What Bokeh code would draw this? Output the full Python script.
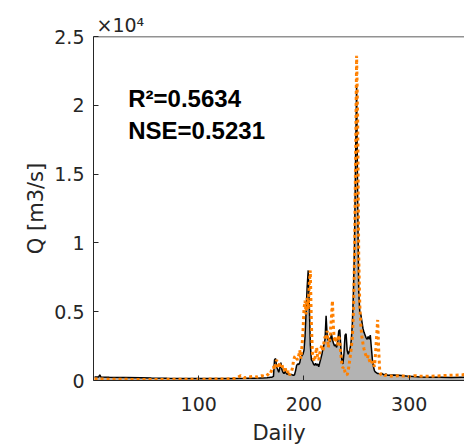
from bokeh.plotting import figure
from bokeh.models import (Label, Span, FixedTicker, CustomJSTickFormatter, Range1d)
from bokeh.embed import file_html
from bokeh.resources import INLINE

# ---------------- data ----------------
obs_days = [1, 5, 6, 7, 15, 30, 45, 55, 70, 85, 100, 115, 130, 145, 155, 165,
            166, 167, 168, 169, 170, 171, 172, 173, 174, 175, 176, 177, 178, 179, 180,
            181, 182, 183, 184, 185, 186, 187, 188, 189, 190, 191, 192, 193, 194, 195,
            196, 197, 198, 199, 200, 201, 202, 203, 204, 205, 206, 207, 208, 209, 210,
            211, 212, 213, 214, 215, 216, 217, 218, 219, 220, 221, 222, 223, 224, 225,
            226, 227, 228, 229, 230, 231, 232, 233, 234, 235, 236, 237, 238, 239, 240,
            241, 242, 243, 244, 245, 246, 247, 248, 249, 250, 251, 252, 253, 254, 255,
            256, 257, 258, 259, 260, 261, 262, 263, 264, 265, 266, 267, 268, 269, 270,
            271, 272, 273, 274, 275, 276, 277, 278, 279, 280, 285, 290, 295, 300, 310,
            320, 330, 340, 350, 358, 365]
obs_q = [250, 260, 420, 250, 230, 220, 200, 180, 160, 150, 140, 140, 150, 160, 170, 200,
         210, 220, 230, 240, 260, 300, 1500, 1600, 1000, 800, 600, 900, 1300, 800, 600,
         500, 650, 550, 450, 500, 420, 400, 450, 400, 380, 420, 700, 1100, 1200, 1150,
         1300, 1700, 1800, 1900, 2200, 3200, 5000, 6800, 8000, 5600, 2600, 1500, 1400, 1200, 1100,
         1250, 1100, 1200, 1000, 1300, 1600, 1900, 2300, 2600, 3000, 4700, 3300, 2900, 3100, 2800,
         3400, 3000, 2700, 2500, 2600, 2400, 2800, 3600, 3700, 2400, 1500, 1200, 2000, 3300, 3400,
         2200, 1900, 2100, 2400, 3000, 4200, 6500, 10000, 16000, 21500, 13000, 6500, 5000, 4800, 4300,
         3800, 3500, 3300, 3100, 3000, 3200, 3000, 3300, 2400, 1500, 1000, 700, 600, 550, 500,
         500, 480, 470, 520, 450, 420, 430, 480, 400, 380, 400, 380, 350, 300, 260,
         240, 230, 220, 230, 240, 230]

sim_days = [1, 10, 20, 35, 50, 65, 80, 95, 110, 125, 135, 140, 143, 148, 152, 156, 160, 163, 166,
            167, 168, 169, 170, 171, 172, 173, 174, 175, 176, 177, 178, 179, 180,
            181, 182, 183, 184, 185, 186, 187, 188, 189, 190, 191, 192, 193, 194, 195,
            196, 197, 198, 199, 200, 201, 202, 203, 204, 205, 206, 207, 208, 209, 210,
            211, 212, 213, 214, 215, 216, 217, 218, 219, 220, 221, 222, 223, 224, 225,
            226, 227, 228, 229, 230, 231, 232, 233, 234, 235, 236, 237, 238, 239, 240,
            241, 242, 243, 244, 245, 246, 247, 248, 249, 250, 251, 252, 253, 254, 255,
            256, 257, 258, 259, 260, 261, 262, 263, 264, 265, 266, 267, 268, 269, 270,
            271, 272, 273, 274, 275, 276, 277, 278, 279, 280, 285, 290, 295, 300, 305,
            310, 320, 330, 340, 350, 355, 360, 365]
sim_q = [120, 100, 90, 80, 70, 80, 90, 90, 100, 110, 150, 350, 200, 250, 300, 250, 350, 300, 450,
         550, 500, 700, 900, 1000, 800, 1200, 1500, 1100, 900, 1300, 1000, 1200, 800,
         700, 1000, 600, 500, 700, 400, 500, 600, 900, 1400, 1700, 1800, 1600, 1500, 1800,
         2200, 1600, 2400, 3500, 5200, 5800, 4800, 6000, 5200, 7000, 8000, 4200, 2000, 1600, 1400,
         1900, 2400, 1600, 1500, 2000, 2300, 2600, 2100, 2800, 3200, 3000, 3600, 2400, 2800, 3400,
         4500, 5800, 3800, 2800, 3200, 2700, 2600, 3300, 2800, 1900, 1200, 900, 1000, 600, 450,
         400, 700, 1200, 1800, 2400, 3200, 5000, 9000, 16000, 23600, 19000, 9000, 5500, 4000, 3200,
         2700, 2300, 2000, 1800, 1600, 1800, 1500, 1300, 1200, 1400, 1200, 1000, 2000, 3200, 4400,
         2200, 600, 450, 400, 380, 420, 350, 400, 380, 350, 300, 350, 320, 280, 350,
         320, 300, 350, 380, 400, 500, 600, 650]

y_ticks = [0, 5000, 10000, 15000, 20000, 25000]
x_ticks = [100, 200, 300]
exponent_text = "\u00d710\u2074"
r2_text = "R\u00b2=0.5634"
nse_text = "NSE=0.5231"

# ---------------- figure ----------------
AX = "#262626"
p = figure(width=464, height=447, output_backend="svg", toolbar_location=None,
           x_range=Range1d(0, 352.5), y_range=Range1d(0, 25000),
           min_border_left=93, min_border_right=0, min_border_top=36, min_border_bottom=67,
           x_axis_label="Daily", y_axis_label="Q [m3/s]")
p.outline_line_color = None
p.grid.visible = False
p.background_fill_color = "white"
p.border_fill_color = "white"

p.title.text = exponent_text
p.title.align = "left"
p.title.offset = 3
p.title.standoff = 2
p.title.text_font = "DejaVu Sans"
p.title.text_font_size = "19px"
p.title.text_font_style = "normal"
p.title.text_color = AX

p.varea(x=obs_days, y1=0, y2=obs_q, fill_color="#B3B3B3")
p.line(obs_days, obs_q, line_color="black", line_width=1.5)
p.line(sim_days, sim_q, line_color="#FF8000", line_width=3, line_dash="3 3")

for ax in (p.xaxis[0], p.yaxis[0]):
    ax.axis_line_color = AX
    ax.major_tick_line_color = AX
    ax.major_tick_in = 5
    ax.major_tick_out = 0
    ax.minor_tick_line_color = None
    ax.major_label_text_color = AX
    ax.major_label_text_font = "DejaVu Sans"
    ax.major_label_text_font_size = "19px"
    ax.axis_label_text_color = AX
    ax.axis_label_text_font = "DejaVu Sans"
    ax.axis_label_text_font_size = "21px"
    ax.axis_label_text_font_style = "normal"

p.xaxis[0].ticker = FixedTicker(ticks=x_ticks)
p.yaxis[0].ticker = FixedTicker(ticks=y_ticks)
p.yaxis[0].formatter = CustomJSTickFormatter(code="return (tick/10000).toString();")
p.xaxis[0].major_label_standoff = 16
p.yaxis[0].major_label_standoff = 9
p.xaxis[0].axis_label_standoff = 7
p.yaxis[0].axis_label_standoff = 3

# top border of the box
p.add_layout(Span(location=25000, dimension="width", line_color=AX, line_width=1.5))

# statistics
p.add_layout(Label(x=33, y=20500, text=r2_text, text_font="Liberation Sans",
                   text_font_size="24px", text_font_style="bold", text_color="black",
                   text_baseline="alphabetic"))
p.add_layout(Label(x=33, y=18150, text=nse_text, text_font="Liberation Sans",
                   text_font_size="24px", text_font_style="bold", text_color="black",
                   text_baseline="alphabetic"))

open("out.html", "w").write(file_html(p, INLINE))
